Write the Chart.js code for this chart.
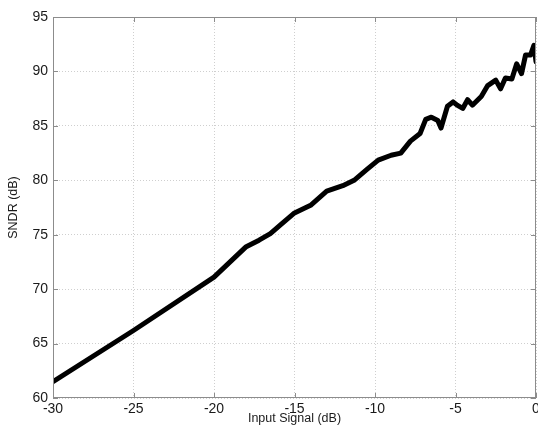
<!DOCTYPE html>
<html>
<head>
<meta charset="utf-8">
<script src="https://cdn.jsdelivr.net/npm/chart.js@4/dist/chart.umd.min.js"></script>
<style>
  html, body { margin: 0; padding: 0; background: #fff; }
</style>
</head>
<body>
<canvas id="sndr" width="538" height="437" style="width:538px;height:437px"></canvas>
<script>
// input level (dB) and measured SNDR (dB)
const inputSignal = [
  -30, -25, -20, -19, -18, -17.2, -16.5, -15.8, -15, -14, -13, -12, -11.3,
  -10.5, -9.8, -9, -8.4, -7.8, -7.2, -6.85, -6.5, -6.1, -5.9, -5.5, -5.15,
  -4.9, -4.55, -4.25, -3.95, -3.4, -3.0, -2.5, -2.2, -1.9, -1.5, -1.2,
  -0.9, -0.65, -0.34, -0.13, 0
];
const sndr = [
  61.5, 66.2, 71.1, 72.5, 73.9, 74.5, 75.1, 76.0, 77.0, 77.7, 79.0, 79.5, 80.0,
  81.0, 81.85, 82.3, 82.5, 83.6, 84.3, 85.6, 85.8, 85.5, 84.8, 86.8, 87.2,
  86.9, 86.6, 87.4, 86.9, 87.7, 88.7, 89.2, 88.4, 89.4, 89.3, 90.7,
  89.8, 91.5, 91.5, 92.4, 90.9
];
const xTicks = [-30, -25, -20, -15, -10, -5, 0];
const yTicks = [60, 65, 70, 75, 80, 85, 90, 95];

const points = inputSignal.map((x, i) => ({ x: x, y: sndr[i] }));

// box round the axes plus small inward ticks, like the original plot
const boxPlugin = {
  id: "box",
  afterDraw(chart) {
    const c = chart.ctx, a = chart.chartArea;
    const sx = chart.scales.x, sy = chart.scales.y;
    c.save();
    c.strokeStyle = "#8c8c8c";
    c.lineWidth = 1;
    c.strokeRect(a.left + 0.5, a.top + 0.5, a.right - a.left - 1, a.bottom - a.top - 1);
    c.beginPath();
    xTicks.forEach(v => {
      const px = Math.round(sx.getPixelForValue(v)) + 0.5;
      c.moveTo(px, a.bottom); c.lineTo(px, a.bottom - 5);
      c.moveTo(px, a.top); c.lineTo(px, a.top + 5);
    });
    yTicks.forEach(v => {
      const py = Math.round(sy.getPixelForValue(v)) + 0.5;
      c.moveTo(a.left, py); c.lineTo(a.left + 5, py);
      c.moveTo(a.right, py); c.lineTo(a.right - 5, py);
    });
    c.stroke();
    c.restore();
  }
};

new Chart(document.getElementById("sndr").getContext("2d"), {
  type: "line",
  data: {
    datasets: [{
      data: points,
      borderColor: "#000",
      borderWidth: 5,
      borderJoinStyle: "round",
      borderCapStyle: "round",
      pointRadius: 0,
      tension: 0,
      fill: false
    }]
  },
  options: {
    responsive: false,
    animation: false,
    events: [],
    layout: { padding: { top: 17, right: 2, left: 0, bottom: 0 } },
    plugins: { legend: { display: false }, tooltip: { enabled: false } },
    scales: {
      x: {
        type: "linear",
        min: -30, max: 0,
        afterBuildTicks: s => { s.ticks = xTicks.map(v => ({ value: v })); },
        afterFit: s => { s.height = 39; s.paddingLeft = 0; s.paddingRight = 0; },
        grid: { color: "#cfcfcf", drawTicks: false },
        border: { display: false, dash: [1, 2] },
        ticks: { color: "#1a1a1a", font: { family: "Liberation Sans, Arial", size: 14 }, padding: 3, maxRotation: 0 },
        title: {
          display: true, text: "Input Signal (dB)", color: "#1a1a1a",
          font: { family: "Liberation Sans, Arial", size: 12.5 },
          padding: { top: 0, bottom: 11 }
        }
      },
      y: {
        min: 60, max: 95,
        afterBuildTicks: s => { s.ticks = yTicks.map(v => ({ value: v })); },
        afterFit: s => { s.width = 53; s.paddingTop = 0; s.paddingBottom = 0; },
        grid: { color: "#cfcfcf", drawTicks: false },
        border: { display: false, dash: [1, 2] },
        ticks: { color: "#1a1a1a", font: { family: "Liberation Sans, Arial", size: 14 }, padding: 5 },
        title: {
          display: true, text: "SNDR (dB)", color: "#1a1a1a",
          font: { family: "Liberation Sans, Arial", size: 12.5 },
          padding: { top: 6, bottom: 0 }
        }
      }
    }
  },
  plugins: [boxPlugin]
});
</script>
</body>
</html>
